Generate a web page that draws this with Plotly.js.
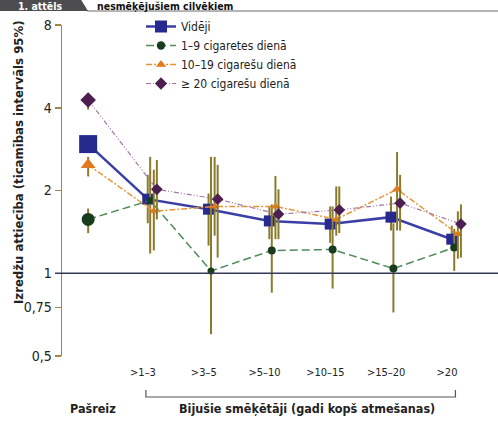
<!DOCTYPE html>
<html>
<head>
<meta charset="utf-8">
<script src="https://cdn.plot.ly/plotly-3.0.1.min.js"></script>
<style>
  html, body { margin: 0; padding: 0; background: #ffffff; }
  #chart { width: 498px; height: 421px; }
</style>
</head>
<body>
<div id="chart"></div>
<script>
// ---- Data ----
const categories = ["Pašreiz", ">1–3", ">3–5", ">5–10", ">10–15", ">15–20", ">20"];
const seriesNames = ["Vidēji", "1–9 cigaretes dienā", "10–19 cigarešu dienā", "≥ 20 cigarešu dienā"];

const avgValues   = [2.95, 1.86, 1.71, 1.55, 1.51, 1.60, 1.33];
const avgLower    = [2.78, 1.52, 1.26, 1.33, 1.29, 1.43, 1.21];
const avgUpper    = [3.15, 2.28, 1.95, 1.75, 1.75, 1.90, 1.49];

const lightValues = [1.57, 1.84, 1.02, 1.21, 1.22, 1.04, 1.24];
const lightLower  = [1.40, 1.18, 0.60, 0.85, 0.88, 0.72, 1.02];
const lightUpper  = [1.72, 2.65, 2.65, 1.78, 1.75, 1.52, 1.45];

const midValues   = [2.48, 1.68, 1.75, 1.75, 1.57, 2.02, 1.39];
const midLower    = [2.25, 1.21, 1.37, 1.33, 1.37, 1.43, 1.13];
const midUpper    = [2.65, 2.38, 2.65, 2.26, 2.07, 2.76, 1.68];

const heavyValues = [4.27, 2.02, 1.86, 1.64, 1.70, 1.80, 1.51];
const heavyLower  = [3.94, 1.57, 1.14, 1.33, 1.40, 1.43, 1.14];
const heavyUpper  = [4.52, 2.58, 2.48, 2.02, 2.07, 2.28, 1.78];

const yTickVals = [0.5, 0.75, 1, 2, 4, 8];
const yTickText = ["0,5", "0,75", "1", "2", "4", "8"];

// ---- Layout helpers (pixels -> paper) ----
const W = 498, H = 421;
const M = { l: 62, r: 0, t: 25, b: 65 };
const PW = W - M.l - M.r, PH = H - M.t - M.b;
const px = x => (x - M.l) / PW;
const py = y => (H - M.b - y) / PH;

const FONT = '"DejaVu Sans Condensed", "Liberation Sans Narrow", "Roboto", sans-serif';
const errColor = '#8a7b2c';

const idx = categories.map((c, i) => i);
// small dodge so the intervals of the groups stand side by side (not at "Pašreiz")
const dodge = [-0.02, 0.02, 0.08, 0.13];
const xsFor = k => idx.map(i => i === 0 ? 0 : i + dodge[k]);

function errs(v, lo, hi) {
  return {
    type: 'data', symmetric: false,
    array: v.map((d, i) => hi[i] - d),
    arrayminus: v.map((d, i) => d - lo[i]),
    color: errColor, thickness: 2, width: 0
  };
}

const traces = [
  {
    name: seriesNames[0], x: xsFor(0), y: avgValues, type: 'scatter', mode: 'lines+markers',
    line: { color: '#3a3fa6', width: 2.5 },
    marker: { symbol: 'square', color: '#262a8e', opacity: 1, line: { width: 0 },
              size: [18, 11, 11, 11, 11, 11, 11] },
    error_y: errs(avgValues, avgLower, avgUpper)
  },
  {
    name: seriesNames[1], x: xsFor(1), y: lightValues, type: 'scatter', mode: 'lines+markers',
    line: { color: '#4f8a58', width: 1.5, dash: '8px,4px' },
    marker: { symbol: 'circle', color: '#183d1e', opacity: 1, line: { width: 0 },
              size: [13, 7, 7, 8, 8, 8, 8] },
    error_y: errs(lightValues, lightLower, lightUpper)
  },
  {
    name: seriesNames[2], x: xsFor(2), y: midValues, type: 'scatter', mode: 'lines+markers',
    line: { color: '#e8953a', width: 1.5, dash: '6px,2px,2px,2px' },
    marker: { symbol: 'triangle-up', color: '#e07a1e', opacity: 1, line: { width: 0 },
              size: [13, 8, 8, 8, 8, 9, 8] },
    error_y: errs(midValues, midLower, midUpper)
  },
  {
    name: seriesNames[3], x: xsFor(3), y: heavyValues, type: 'scatter', mode: 'lines+markers',
    line: { color: '#a277a8', width: 1.2, dash: '5px,2px,1px,2px,1px,2px' },
    marker: { symbol: 'diamond', color: '#4c1f50', opacity: 1, line: { width: 0 },
              size: [12, 9, 9, 9, 9, 9, 9] },
    error_y: errs(heavyValues, heavyLower, heavyUpper)
  }
];

const layout = {
  width: W, height: H,
  margin: M,
  paper_bgcolor: '#ffffff', plot_bgcolor: '#ffffff',
  font: { family: FONT, size: 12, color: '#222222' },
  showlegend: true,
  legend: {
    x: px(141), y: py(12), xanchor: 'left', yanchor: 'top',
    bgcolor: 'rgba(0,0,0,0)', font: { family: FONT, size: 12, color: '#222' },
    tracegroupgap: 0, itemwidth: 30, itemsizing: 'trace'
  },
  xaxis: {
    range: [-0.43, 6.74], showgrid: false, zeroline: false, showline: false,
    tickmode: 'array', tickvals: idx.slice(1), ticktext: categories.slice(1),
    ticks: '', tickfont: { family: FONT, size: 11, color: '#222' },
    ticklabelstandoff: 8, ticklabelshift: -6, fixedrange: true
  },
  yaxis: {
    type: 'log', range: [Math.log10(0.5), Math.log10(8)],
    showgrid: false, zeroline: false, showline: true,
    linecolor: '#9c8844', linewidth: 1.5,
    ticks: 'outside', ticklen: 6, tickcolor: '#9c8844', tickwidth: 1.5,
    tickmode: 'array', tickvals: yTickVals, ticktext: yTickText,
    tickfont: { family: FONT, size: 14, color: '#222' }, fixedrange: true
  },
  shapes: [
    // reference line at 1
    { type: 'line', xref: 'paper', yref: 'y', x0: px(55), x1: 1, y0: 1, y1: 1,
      line: { color: '#343a55', width: 1.5 } },
    // bracket for former smokers
    { type: 'path', xref: 'x', yref: 'paper',
      path: `M 0.95 ${py(390)} L 0.95 ${py(397)} L 6.04 ${py(397)} L 6.04 ${py(390)}`,
      line: { color: '#555555', width: 1.2 } },
    // header tab
    { type: 'path', xref: 'paper', yref: 'paper',
      path: `M ${px(0)} ${py(-2)} L ${px(80)} ${py(-2)} L ${px(88)} ${py(11)} L ${px(0)} ${py(11)} Z`,
      fillcolor: '#4d4d4f', line: { width: 0 } },
    { type: 'line', xref: 'paper', yref: 'paper', x0: px(87), x1: px(498), y0: py(11), y1: py(11),
      line: { color: '#6b6b6b', width: 1 } }
  ],
  annotations: [
    { text: '<b>Izredžu attiecība (ticamības intervāls 95%)</b>', xref: 'paper', yref: 'paper',
      x: px(18), y: py(162), textangle: -90, showarrow: false,
      font: { family: FONT, size: 13, color: '#222' }, xanchor: 'center', yanchor: 'middle' },
    { text: '<b>Pašreiz</b>', xref: 'x', yref: 'paper', x: 0.08, y: py(408), showarrow: false,
      font: { family: FONT, size: 12.5, color: '#222' }, xanchor: 'center', yanchor: 'middle' },
    { text: '<b>Bijušie smēķētāji (gadi kopš atmešanas)</b>', xref: 'x', yref: 'paper', x: 3.6, y: py(408),
      showarrow: false, font: { family: FONT, size: 12.5, color: '#222' }, xanchor: 'center', yanchor: 'middle' },
    { text: '<b>1. attēls</b>', xref: 'paper', yref: 'paper', x: px(40), y: py(5.5), showarrow: false,
      font: { family: FONT, size: 10.5, color: '#ffffff' }, xanchor: 'center', yanchor: 'middle' },
    { text: '<b>nesmēķējušiem cilvēkiem</b>', xref: 'paper', yref: 'paper', x: px(95), y: py(5.5), showarrow: false,
      font: { family: FONT, size: 10.5, color: '#111' }, xanchor: 'left', yanchor: 'middle' }
  ]
};

Plotly.newPlot('chart', traces, layout, { staticPlot: true, displayModeBar: false });
</script>
</body>
</html>
